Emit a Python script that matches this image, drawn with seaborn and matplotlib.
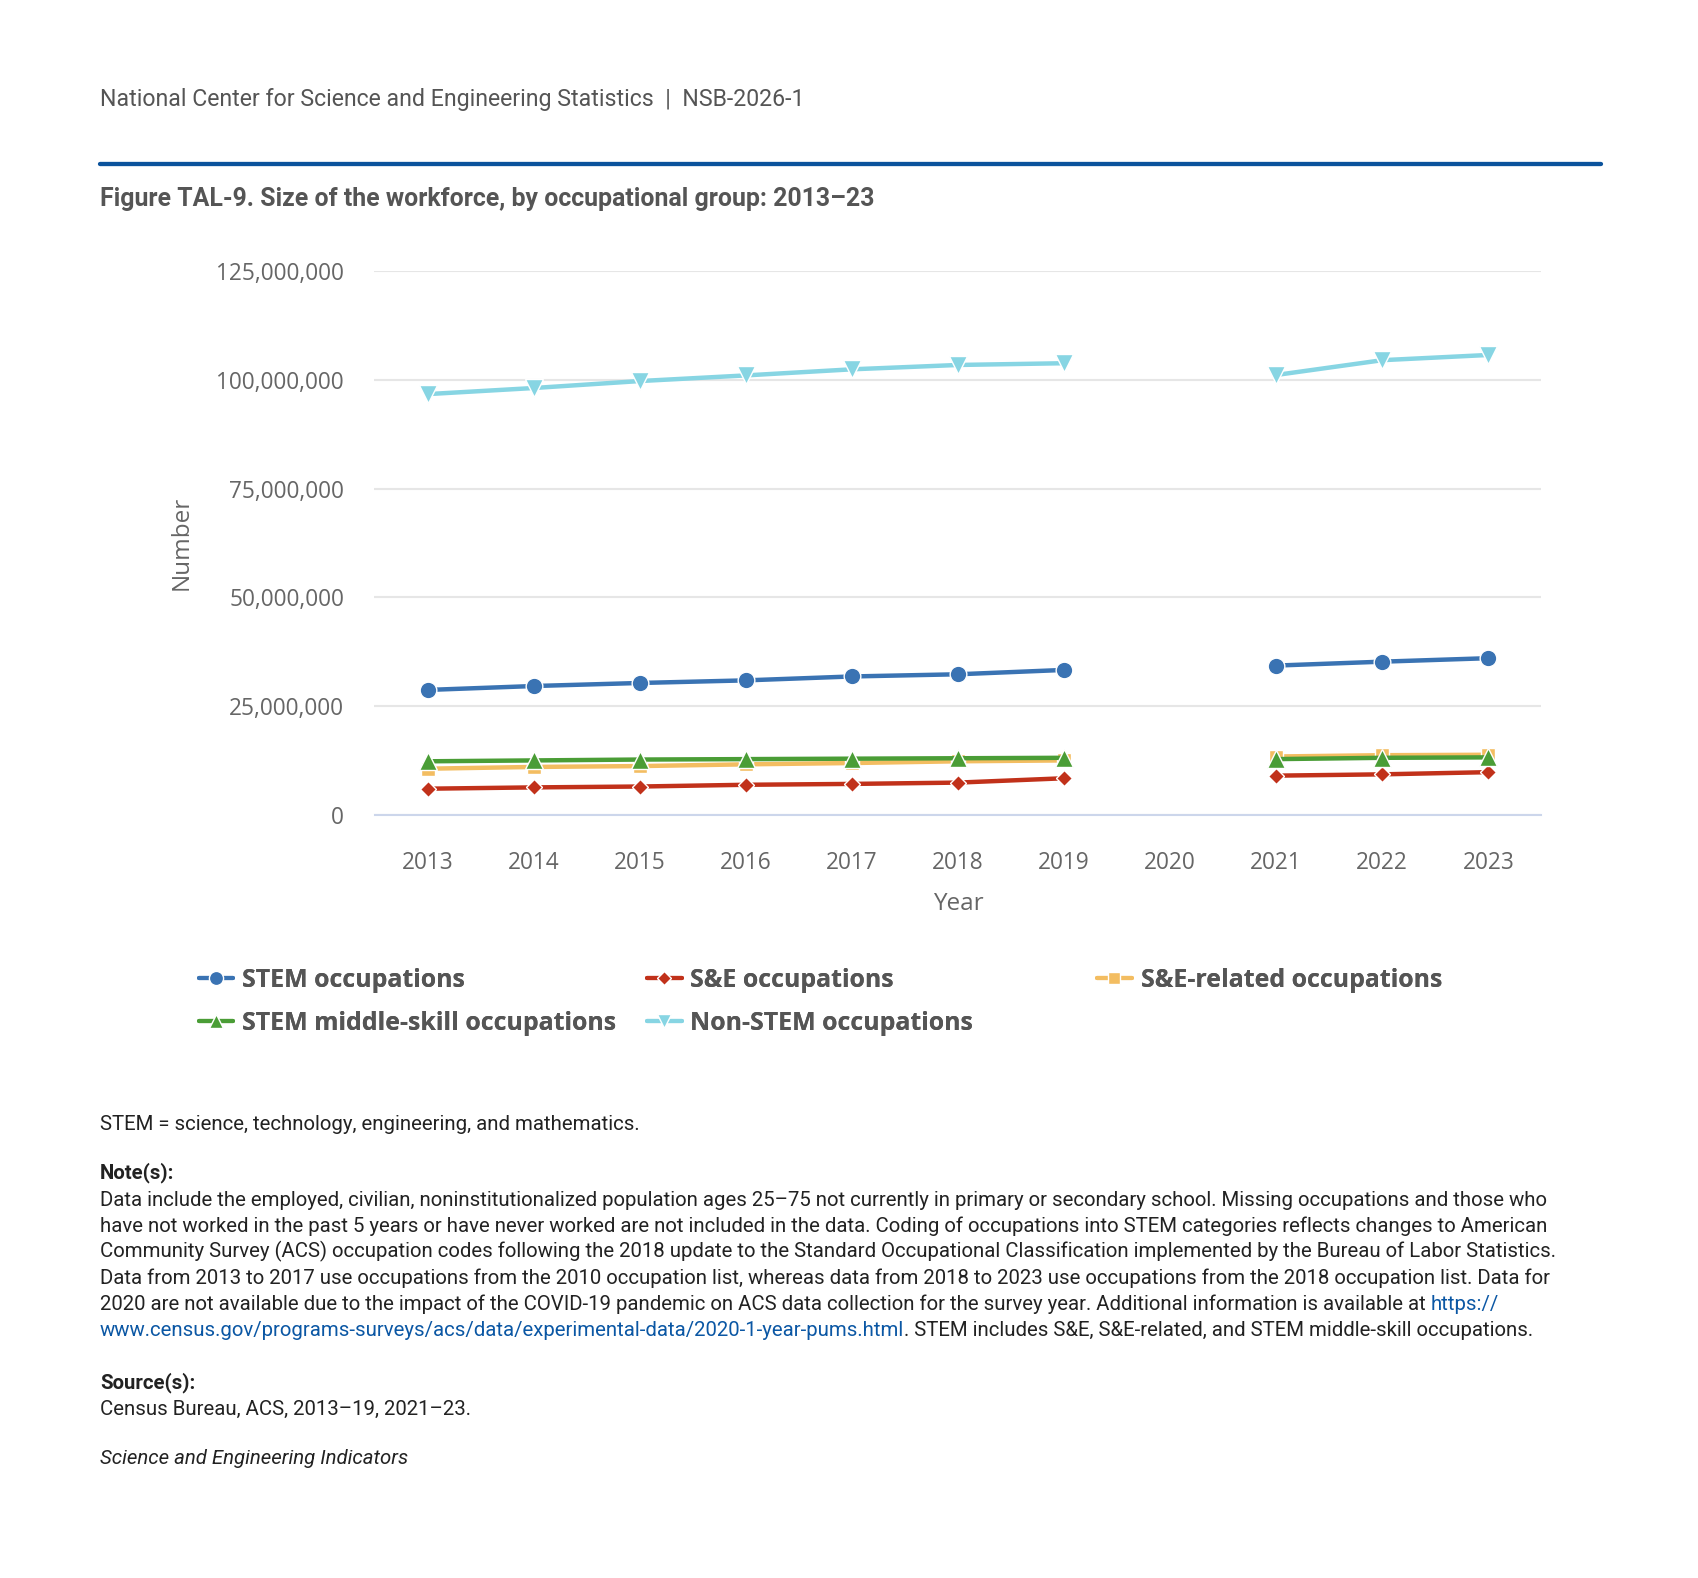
import numpy as np
import pandas as pd
import matplotlib
matplotlib.use("Agg")
import matplotlib.pyplot as plt
from matplotlib.lines import Line2D
from matplotlib.ticker import FuncFormatter
import seaborn as sns

# data (number of workers)
years = [2013, 2014, 2015, 2016, 2017, 2018, 2019, 2021, 2022, 2023]
stem = [28_700_000, 29_600_000, 30_300_000, 30_900_000, 31_800_000, 32_300_000, 33_300_000,
        34_300_000, 35_200_000, 36_000_000]
se = [6_000_000, 6_300_000, 6_500_000, 6_900_000, 7_100_000, 7_400_000, 8_400_000,
      9_000_000, 9_300_000, 9_800_000]
se_related = [10_600_000, 11_000_000, 11_200_000, 11_600_000, 11_900_000, 12_300_000, 12_500_000,
              13_400_000, 13_700_000, 13_800_000]
middle_skill = [12_300_000, 12_500_000, 12_700_000, 12_800_000, 12_900_000, 13_000_000, 13_100_000,
                12_800_000, 13_100_000, 13_200_000]
non_stem = [96_700_000, 98_100_000, 99_700_000, 101_000_000, 102_400_000, 103_400_000, 103_800_000,
            101_100_000, 104_500_000, 105_700_000]

series_names = ["STEM occupations", "S&E occupations", "S&E-related occupations",
                "STEM middle-skill occupations", "Non-STEM occupations"]
tick_years = list(range(2013, 2024))

# styling
colors = {"STEM occupations": "#3a73b3", "S&E occupations": "#c1311a",
          "S&E-related occupations": "#f3bd61", "STEM middle-skill occupations": "#4a9d36",
          "Non-STEM occupations": "#87d5e3"}
markers = {"STEM occupations": "o", "S&E occupations": "D", "S&E-related occupations": "s",
           "STEM middle-skill occupations": "^", "Non-STEM occupations": "v"}
msizes = {"STEM occupations": 12, "S&E occupations": 8.5, "S&E-related occupations": 10,
          "STEM middle-skill occupations": 12.5, "Non-STEM occupations": 12.5}

values = [stem, se, se_related, middle_skill, non_stem]
df = pd.concat([pd.DataFrame({"year": years, "value": v, "series": n})
                for n, v in zip(series_names, values)], ignore_index=True)
# 2020 has no data -> split each line into two runs
df["period"] = np.where(df["year"] < 2020, "2013-19", "2021-23")

sns.set_style("white")
plt.rcParams["font.family"] = ["Open Sans", "DejaVu Sans"]

W, H = 1699, 1578
fig = plt.figure(figsize=(W / 100, H / 100), dpi=100)

def fx(px):
    return px / W

def fy(py):
    return 1 - py / H

ax = fig.add_axes([fx(374.5), fy(814.8), fx(1541.4) - fx(374.5), fy(271) - fy(814.8)])

for name in series_names:
    sns.lineplot(data=df[df["series"] == name], x="year", y="value", units="period",
                 estimator=None, color=colors[name], marker=markers[name],
                 markersize=msizes[name], markeredgecolor="white", markeredgewidth=1.0,
                 linewidth=3.2, ax=ax, legend=False)

ax.set_xlim(2012.5, 2023.5)
ax.set_ylim(0, 125_000_000)
ax.set_xticks(tick_years)
ax.set_yticks(range(0, 125_000_001, 25_000_000))
ax.yaxis.set_major_formatter(FuncFormatter(lambda v, p: f"{v:,.0f}"))
ax.grid(axis="y", color="#e6e6e6", linewidth=1.5)
ax.set_axisbelow(True)
for s in ["top", "right", "left"]:
    ax.spines[s].set_visible(False)
ax.spines["bottom"].set_color("#ccd6eb")
ax.spines["bottom"].set_linewidth(1.5)
ax.tick_params(axis="x", length=8, width=1.1, color="#ccd6eb", pad=18,
               labelsize=16.3, labelcolor="#666666")
ax.tick_params(axis="y", length=0, pad=22, labelsize=16.3, labelcolor="#666666")
ax.set_xlabel("")
ax.set_ylabel("")

fig.text(fx(182), fy(543), "Number", rotation=90, ha="center", va="center",
         fontsize=17.5, color="#666666")
fig.text(fx(958), fy(904), "Year", ha="center", va="center", fontsize=17.5, color="#666666")

# header, rule and title
fig.text(fx(99.8), fy(99.8), "National Center for Science and Engineering Statistics  |  NSB-2026-1",
         family="Roboto", fontsize=16.7, color="#555555", va="center")
fig.add_artist(Line2D([fx(99.8), fx(1601)], [fy(163.8), fy(163.8)], color="#0b539c",
                      linewidth=3.1, transform=fig.transFigure))
fig.text(fx(99.8), fy(198.6), "Figure TAL-9. Size of the workforce, by occupational group: 2013\u201323",
         family="Roboto", fontweight="bold", fontsize=17.9, color="#555555", va="center")

# legend, three columns
def handle(name):
    return Line2D([], [], color=colors[name], marker=markers[name], markersize=msizes[name] * 0.85,
                  markeredgecolor="white", markeredgewidth=1.0, linewidth=3)

columns = [(198.6, ["STEM occupations", "STEM middle-skill occupations"]),
           (646.7, ["S&E occupations", "Non-STEM occupations"]),
           (1097, ["S&E-related occupations"])]
for x0, names in columns:
    leg = fig.legend([handle(n) for n in names], names, loc="upper left",
                     bbox_to_anchor=(fx(x0), fy(968)), frameon=False, borderpad=0,
                     borderaxespad=0, handlelength=1.4, handletextpad=0.36, labelspacing=0.71,
                     prop={"family": "Open Sans", "weight": "bold", "size": 17.9})
    for t in leg.get_texts():
        t.set_color("#555555")
    fig.add_artist(leg)

# notes
FS = 14.7
note_kw = dict(family="Roboto", fontsize=FS, color="#222222", va="bottom")
link = "#0b57a4"

def line(y, text, **kw):
    args = dict(note_kw)
    args.update(kw)
    return fig.text(fx(99.8), fy(y), text, **args)

def after(prev, text, color):
    return plt.annotate(text, xy=(1, 0), xycoords=prev, va="bottom", ha="left",
                        family="Roboto", fontsize=FS, color=color, annotation_clip=False)

base = 10
line(1124 + base, "STEM = science, technology, engineering, and mathematics.")
line(1173 + base, "Note(s):", fontweight="bold")
note_lines = [
    "Data include the employed, civilian, noninstitutionalized population ages 25\u201375 not currently in primary or secondary school. Missing occupations and those who",
    "have not worked in the past 5 years or have never worked are not included in the data. Coding of occupations into STEM categories reflects changes to American",
    "Community Survey (ACS) occupation codes following the 2018 update to the Standard Occupational Classification implemented by the Bureau of Labor Statistics.",
    "Data from 2013 to 2017 use occupations from the 2010 occupation list, whereas data from 2018 to 2023 use occupations from the 2018 occupation list. Data for",
]
for i, txt in enumerate(note_lines):
    line(1200 + 26 * i + base, txt)
t5 = line(1200 + 26 * 4 + base, "2020 are not available due to the impact of the COVID-19 pandemic on ACS data collection for the survey year. Additional information is available at ")
after(t5, "https://", link)
t6 = line(1200 + 26 * 5 + base, "www.census.gov/programs-surveys/acs/data/experimental-data/2020-1-year-pums.html", color=link)
after(t6, ". STEM includes S&E, S&E-related, and STEM middle-skill occupations.", "#222222")
line(1383 + base, "Source(s):", fontweight="bold")
line(1409 + base, "Census Bureau, ACS, 2013\u201319, 2021\u201323.")
line(1458 + base, "Science and Engineering Indicators", style="italic")

fig.savefig("out.png", dpi=100)
